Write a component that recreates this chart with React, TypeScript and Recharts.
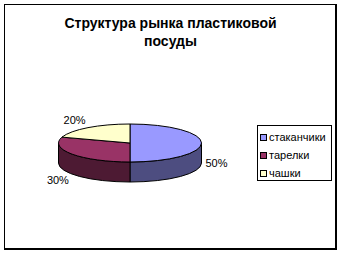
import { Cell, Legend, Pie, PieChart, Tooltip } from "recharts";

const CATEGORIES = ["стаканчики", "тарелки", "чашки"];
const VALUES = [50, 30, 20];
const TITLE_LINES = ["Структура рынка пластиковой", "посуды"];

const COLORS = ["#9999FF", "#993366", "#FFFFCC"];
const FONT = "Arial, 'Liberation Sans', sans-serif";

// ellipse radii of the top face and the height of the side wall
const RX = 71.5;
const RY = 19;
const DEPTH = 20;

const data = CATEGORIES.map((name, i) => ({ name, value: VALUES[i] }));

function darken(hex: string) {
  const n = parseInt(hex.slice(1), 16);
  const ch = (v: number) => Math.round(v * 0.5).toString(16).padStart(2, "0");
  return `#${ch((n >> 16) & 255)}${ch((n >> 8) & 255)}${ch(n & 255)}`;
}

function pt(cx: number, cy: number, deg: number, dy = 0) {
  const r = (deg * Math.PI) / 180;
  return `${cx + RX * Math.cos(r)},${cy - RY * Math.sin(r) + dy}`;
}

function Slice3D(props: any) {
  const { cx, cy, startAngle, endAngle, fill } = props;
  const hi = Math.max(startAngle, endAngle);
  const lo = Math.min(startAngle, endAngle);
  const large = hi - lo > 180 ? 1 : 0;
  const side = darken(fill);

  // front half of the ellipse (sin < 0) shows the side wall
  const walls: [number, number][] = [];
  for (let k = -2; k <= 2; k++) {
    const s = Math.max(lo, -180 + 360 * k);
    const e = Math.min(hi, 360 * k);
    if (e - s > 0.01) walls.push([s, e]);
  }

  return (
    <g>
      {walls.map(([s, e], i) => (
        <path
          key={i}
          d={`M${pt(cx, cy, e)} A${RX},${RY} 0 0 1 ${pt(cx, cy, s)} L${pt(cx, cy, s, DEPTH)} A${RX},${RY} 0 0 0 ${pt(cx, cy, e, DEPTH)} Z`}
          fill={side}
          stroke="#000"
          strokeWidth={1}
        />
      ))}
      <path
        d={`M${cx},${cy} L${pt(cx, cy, hi)} A${RX},${RY} 0 ${large} 1 ${pt(cx, cy, lo)} Z`}
        fill={fill}
        stroke="#000"
        strokeWidth={1}
      />
    </g>
  );
}

function renderLabel(props: any) {
  const { cx, cy, midAngle, percent } = props;
  const r = (midAngle * Math.PI) / 180;
  const cos = Math.cos(r);
  const sin = Math.sin(r);
  const x = cx + (RX + 4) * cos;
  const y = cy - (RY + 10) * sin + (sin <= 0.001 ? DEPTH : 0);
  return (
    <text
      x={x}
      y={y}
      textAnchor={cos >= 0 ? "start" : "end"}
      dominantBaseline="central"
      fill="#000"
      fontSize={11}
      fontFamily={FONT}
    >
      {`${Math.round(percent * 100)}%`}
    </text>
  );
}

function LegendBox({ payload }: any) {
  return (
    <div
      style={{
        boxSizing: "border-box",
        width: 75,
        height: 56,
        border: "1px solid #000",
        background: "#fff",
        paddingTop: 2,
        paddingLeft: 2,
        fontFamily: FONT,
        fontSize: 11,
      }}
    >
      {(payload || []).map((p: any) => (
        <div key={p.value} style={{ display: "flex", alignItems: "center", height: 18 }}>
          <span
            style={{
              boxSizing: "border-box",
              width: 7,
              height: 7,
              border: "1px solid #000",
              background: p.color,
              marginRight: 2,
            }}
          />
          <span>{p.value}</span>
        </div>
      ))}
    </div>
  );
}

export default function App() {
  return (
    <div style={{ position: "relative", width: 341, height: 254, background: "#fff" }}>
      <style>{"body{margin:0}"}</style>
      <div
        style={{
          position: "absolute",
          left: 4,
          top: 4,
          width: 333,
          height: 246,
          boxSizing: "border-box",
          borderTop: "1px solid #000",
          borderLeft: "1px solid #000",
          borderRight: "2px solid #000",
          borderBottom: "2px solid #000",
        }}
      />
      <div
        style={{
          position: "absolute",
          left: 0,
          top: 14,
          width: 341,
          textAlign: "center",
          fontFamily: FONT,
          fontWeight: "bold",
          fontSize: 14,
          lineHeight: "18px",
        }}
      >
        {TITLE_LINES.map((t) => (
          <div key={t}>{t}</div>
        ))}
      </div>
      <PieChart
        width={341}
        height={254}
        margin={{ top: 0, right: 0, bottom: 0, left: 0 }}
        style={{ position: "absolute", left: 0, top: 0 }}
      >
        <Pie
          data={data}
          dataKey="value"
          nameKey="name"
          cx={130}
          cy={143}
          outerRadius={RX}
          startAngle={90}
          endAngle={-270}
          stroke="#000"
          isAnimationActive={false}
          shape={Slice3D}
          activeShape={Slice3D}
          inactiveShape={Slice3D}
          label={renderLabel}
          labelLine={false}
        >
          {data.map((d, i) => (
            <Cell key={d.name} fill={COLORS[i]} />
          ))}
        </Pie>
        <Tooltip defaultIndex={0} content={() => null} />
        <Legend
          layout="vertical"
          align="right"
          verticalAlign="middle"
          content={LegendBox}
          wrapperStyle={{ left: 257, top: 125, width: 75, height: 56, right: "auto", bottom: "auto" }}
        />
      </PieChart>
    </div>
  );
}
